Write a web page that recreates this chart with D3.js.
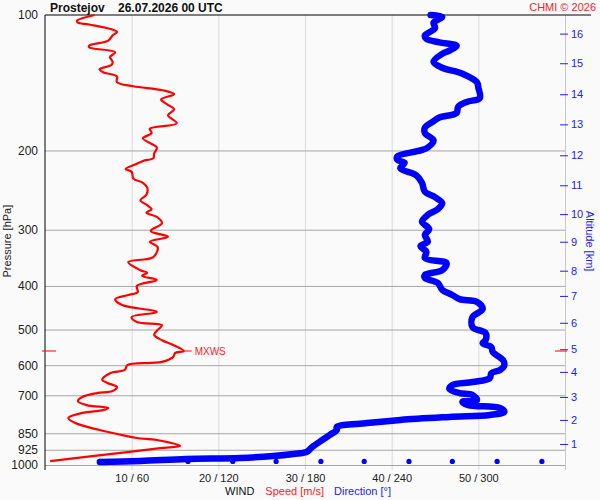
<!DOCTYPE html>
<html lang="en">
<head>
  <meta charset="UTF-8">
  <title>Prostejov wind profile</title>
  <style>
    body { margin: 0; background: #fafafa; }
    svg { font-family: Arial, "Liberation Sans", sans-serif; }
  </style>
</head>
<body>
  <svg id="svg" width="600" height="500"></svg>

  <script src="https://d3js.org/d3.v7.min.js"></script>
  <script>
    // pressure levels (hPa) and wind speed (m/s) of the red profile
    const speedP = [100, 103, 104, 105, 109, 111, 114, 117, 118, 121, 124, 127, 129, 132, 134, 137, 141, 144, 147, 150,
      154, 158, 162, 167, 174, 179, 183, 188, 197, 203, 208, 211, 215, 220, 223, 231, 236, 242, 251, 258,
      264, 270, 275, 281, 290, 302, 311, 319, 328, 345, 354, 369, 374, 380, 388, 400, 413, 419, 428, 441,
      457, 469, 481, 489, 501, 514, 528, 541, 558, 564, 575, 590, 593, 600, 615, 625, 647, 657, 671, 685,
      692, 706, 721, 736, 747, 755, 766, 786, 807, 836, 858, 871, 880, 907, 917, 936, 980]
    const speed = [5.7, 3.7, 3.8, 5.1, 8.3, 7.8, 7.3, 5.1, 5.1, 8.1, 7.5, 7.8, 7.7, 6.3, 6.7, 8.3, 8.3, 10.2, 13.6, 14.9,
      13.4, 14.1, 14.9, 14.2, 15.2, 12.1, 12.3, 11.3, 12.9, 12.6, 12.5, 11.3, 10.4, 9.3, 10.0, 10.2, 11.3, 11.8, 11.7, 11.0,
      11.7, 12.3, 11.7, 12.9, 13.5, 12.2, 14.2, 12.1, 13.0, 12.5, 9.6, 11.0, 11.8, 11.2, 12.9, 10.6, 10.7, 9.6, 8.1, 8.9,
      12.9, 10.0, 10.6, 13.5, 13.0, 12.6, 13.5, 14.8, 16.0, 15.0, 14.8, 13.5, 12.2, 9.5, 9.2, 7.5, 6.6, 7.2, 8.3, 7.8,
      6.0, 4.3, 3.8, 4.8, 7.3, 6.7, 4.3, 2.7, 3.5, 6.3, 8.9, 10.6, 12.9, 15.6, 13.3, 9.5, 0.6]

    // pressure levels (hPa) and wind direction (deg) of the blue profile
    const dirP = [100, 101, 104, 107, 111, 113, 115, 117, 120, 122, 127, 131, 135, 141, 145, 153, 156, 160, 165, 169,
      173, 178, 183, 190, 197, 200, 206, 210, 213, 219, 227, 236, 247, 254, 262, 270, 278, 288, 299, 308,
      319, 326, 336, 347, 356, 369, 378, 384, 394, 408, 419, 428, 434, 450, 469, 494, 509, 528, 536, 547,
      561, 584, 600, 615, 625, 641, 654, 664, 678, 692, 699, 717, 724, 736, 747, 762, 774, 782, 794, 807,
      823, 836, 858, 880, 912, 936, 945, 955, 965, 970, 980, 985]
    const direction = [267, 275, 269, 270, 263, 264, 273, 285, 280, 275, 269, 275, 289, 299, 300, 301, 292, 286, 285, 273,
      268, 263, 263, 269, 265, 260, 244, 244, 249, 246, 257, 261, 263, 270, 275, 272, 265, 261, 266, 263,
      265, 260, 264, 263, 278, 275, 263, 263, 272, 275, 282, 287, 299, 303, 296, 296, 305, 305, 303, 309,
      310, 317, 318, 315, 309, 308, 296, 282, 280, 287, 296, 299, 289, 293, 315, 318, 308, 280, 246, 223,
      202, 202, 197, 192, 185, 181, 172, 158, 135, 98, 66, 38]

    // dotted row near the surface
    const surfaceP = 982
    const surfaceDots = [38, 68, 99, 130, 160, 191, 221, 252, 282, 313, 344]

    // axes
    const pressureTicks = [100, 200, 300, 400, 500, 600, 700, 850, 925, 1000]
    const speedTicks = [10, 20, 30, 40, 50]
    const windLabels = ['10 / 60', '20 / 120', '30 / 180', '40 / 240', '50 / 300']
    const altKm = [1, 2, 3, 4, 5, 6, 7, 8, 9, 10, 11, 12, 13, 14, 15, 16]
    const altP = [898, 794, 706, 621, 553, 483, 421, 370, 319, 277, 239, 205, 175, 150, 128, 110]

    // maximum wind
    const mxwsP = 558
    const mxwsSpeed = 16.0

    const margin = { top: 15, right: 35, bottom: 35, left: 45 }
    const width = 600 - (margin.left + margin.right)
    const height = 500 - (margin.top + margin.bottom)

    const xscale = d3.scaleLinear().domain([0, 60]).range([margin.left, margin.left + width])
    const dscale = d3.scaleLinear().domain([0, 360]).range([margin.left, margin.left + width])
    const yscale = d3.scaleLog().domain([100, 1000]).range([margin.top, margin.top + height])

    const svg = d3.select('#svg')

    svg.append('rect')
      .attr('width', 600).attr('height', 500)
      .attr('fill', '#fafafa')

    // vertical grid
    svg.append('g')
      .attr('transform', `translate(0, ${margin.top})`)
      .call(d3.axisBottom(xscale).tickValues([...speedTicks, 60]).tickSize(height + 5).tickFormat(''))
      .call(g => g.select('.domain').remove())
      .call(g => g.selectAll('line').attr('stroke', d => d === 60 ? '#c8c8c8' : '#dadada'))

    // horizontal grid
    svg.append('g')
      .attr('transform', `translate(${margin.left}, 0)`)
      .call(d3.axisRight(yscale).tickValues(pressureTicks.slice(1)).tickSize(width).tickFormat(''))
      .call(g => g.select('.domain').remove())
      .call(g => g.selectAll('line').attr('stroke', '#a6a6a6'))

    // top line
    svg.append('line')
      .attr('x1', margin.left).attr('x2', 591)
      .attr('y1', yscale(100)).attr('y2', yscale(100))
      .attr('stroke', '#000')

    // left axis
    svg.append('g')
      .attr('transform', `translate(${margin.left}, 0)`)
      .call(d3.axisLeft(yscale).tickValues(pressureTicks).tickFormat(d3.format('d')).tickSize(0).tickPadding(7))
      .call(g => g.select('.domain').attr('d', `M0,${margin.top}V${margin.top + height + 5}`).attr('stroke', '#000'))
      .call(g => g.selectAll('text').attr('font-size', 12).attr('fill', '#222'))

    // bottom labels
    svg.append('g')
      .attr('transform', `translate(0, ${margin.top + height})`)
      .call(d3.axisBottom(xscale).tickValues(speedTicks).tickFormat((d, i) => windLabels[i]).tickSize(0).tickPadding(9))
      .call(g => g.select('.domain').remove())
      .call(g => g.selectAll('text').attr('font-size', 11).attr('fill', '#222'))

    // right altitude axis
    svg.append('g')
      .attr('transform', `translate(${margin.left + width - 5}, 0)`)
      .call(d3.axisRight(yscale).tickValues(altP).tickFormat((d, i) => altKm[i]).tickSize(8).tickPadding(3))
      .call(g => g.select('.domain').remove())
      .call(g => g.selectAll('line').attr('stroke', '#2020ff'))
      .call(g => g.selectAll('text').attr('font-size', 11).attr('fill', '#2020ff'))

    // direction profile
    const dirLine = d3.line()
      .x((d, i) => dscale(direction[i]))
      .y(d => yscale(d))
      .curve(d3.curveCatmullRom)

    svg.append('path')
      .datum(dirP)
      .attr('d', dirLine)
      .attr('fill', 'none')
      .attr('stroke', '#0000ff')
      .attr('stroke-width', 6.5)
      .attr('stroke-linejoin', 'round')
      .attr('stroke-linecap', 'round')

    svg.append('g')
      .selectAll('circle')
      .data(surfaceDots)
      .enter()
      .append('circle')
      .attr('cx', d => dscale(d))
      .attr('cy', yscale(surfaceP))
      .attr('r', 2.6)
      .attr('fill', '#0000ff')

    // speed profile
    const speedLine = d3.line()
      .x((d, i) => xscale(speed[i]))
      .y(d => yscale(d))
      .curve(d3.curveCatmullRom)

    svg.append('path')
      .datum(speedP)
      .attr('d', speedLine)
      .attr('fill', 'none')
      .attr('stroke', '#ff0000')
      .attr('stroke-width', 2.2)
      .attr('stroke-linejoin', 'round')

    // MXWS marks
    const my = yscale(mxwsP)
    svg.append('line')
      .attr('x1', xscale(mxwsSpeed)).attr('x2', xscale(mxwsSpeed) + 8)
      .attr('y1', my).attr('y2', my)
      .attr('stroke', '#ff0000')
    svg.append('text')
      .attr('x', xscale(mxwsSpeed) + 11).attr('y', my + 4)
      .attr('font-size', 10).attr('fill', '#ff2020')
      .text('MXWS')
    svg.append('line')
      .attr('x1', margin.left - 3).attr('x2', margin.left + 11)
      .attr('y1', my).attr('y2', my)
      .attr('stroke', '#ff0000')
    svg.append('line')
      .attr('x1', margin.left + width - 10).attr('x2', margin.left + width + 2)
      .attr('y1', my).attr('y2', my)
      .attr('stroke', '#ff0000')

    // axis titles
    svg.append('text')
      .attr('transform', `translate(11, ${yscale(318)}) rotate(-90)`)
      .attr('text-anchor', 'middle')
      .attr('font-size', 11).attr('fill', '#222')
      .text('Pressure [hPa]')

    svg.append('text')
      .attr('transform', `translate(586, ${yscale(318)}) rotate(90)`)
      .attr('text-anchor', 'middle')
      .attr('font-size', 11).attr('fill', '#2020ff')
      .text('Altitude [km]')

    const legend = svg.append('text')
      .attr('x', 225).attr('y', 495)
      .attr('font-size', 11)
    legend.append('tspan').attr('fill', '#111').text('WIND')
    legend.append('tspan').attr('dx', 11).attr('fill', '#ff2020').text('Speed [m/s]')
    legend.append('tspan').attr('dx', 10).attr('fill', '#2020ff').text('Direction [°]')

    // header
    svg.append('text')
      .attr('x', 50).attr('y', 12)
      .attr('font-size', 12).attr('font-weight', 'bold').attr('fill', '#111')
      .attr('xml:space', 'preserve')
      .text('Prostejov    26.07.2026 00 UTC')

    svg.append('text')
      .attr('x', 596).attr('y', 11)
      .attr('text-anchor', 'end')
      .attr('font-size', 11).attr('fill', '#ff2020')
      .text('CHMI © 2026')
  </script>
</body>
</html>
